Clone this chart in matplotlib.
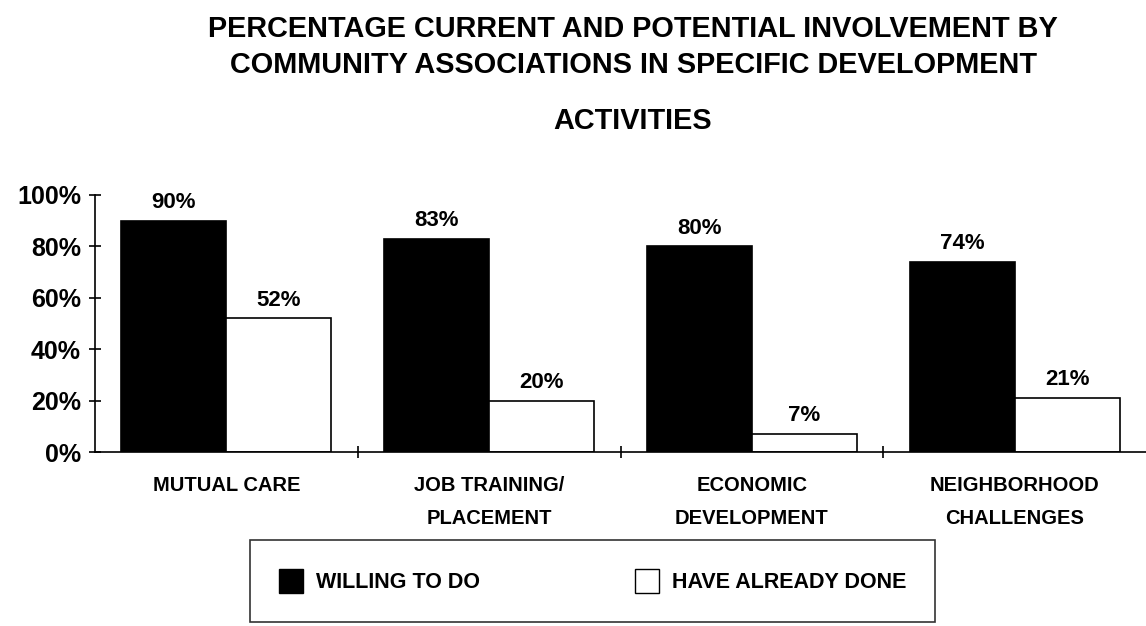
import matplotlib.pyplot as plt
from matplotlib.patches import Patch
import numpy as np

# Datos
categorias = ["MUTUAL CARE", "JOB TRAINING/\nPLACEMENT", "ECONOMIC\nDEVELOPMENT", "NEIGHBORHOOD\nCHALLENGES"]
willing = [90, 83, 80, 74]
already = [52, 20, 7, 21]
yticks = [0, 20, 40, 60, 80, 100]
titulo = ["PERCENTAGE CURRENT AND POTENTIAL INVOLVEMENT BY",
          "COMMUNITY ASSOCIATIONS IN SPECIFIC DEVELOPMENT",
          "ACTIVITIES"]

plt.rcParams['font.family'] = ['Liberation Sans', 'DejaVu Sans']

fig = plt.figure(figsize=(11.46, 6.26), dpi=100)
fig.patch.set_facecolor('white')
ax = fig.add_axes([95 / 1146, 1 - 452 / 626, 1 - 95 / 1146, (452 - 195) / 626])

x = np.arange(len(categorias))
w = 0.4
ax.bar(x - w / 2, willing, w, color='black', edgecolor='black', linewidth=1.2)
ax.bar(x + w / 2, already, w, color='white', edgecolor='black', linewidth=1.2)

# Etiquetas de porcentaje sobre las barras
for xi, v in zip(x, willing):
    ax.text(xi - w / 2, v + 3, f"{v}%", ha='center', va='bottom', fontsize=16, fontweight='bold')
for xi, v in zip(x, already):
    ax.text(xi + w / 2, v + 3, f"{v}%", ha='center', va='bottom', fontsize=16, fontweight='bold')

ax.set_xlim(-0.5, 3.5)
ax.set_ylim(0, 100)
ax.set_yticks(yticks)
ax.set_yticklabels([f"{t}%" for t in yticks], fontsize=18, fontweight='bold')
ax.set_xticks(x)
ax.set_xticklabels(categorias, fontsize=14.5, fontweight='bold', linespacing=1.95)
ax.set_xticks([0.5, 1.5, 2.5], minor=True)
ax.tick_params(axis='x', which='major', length=0, pad=17)
ax.tick_params(axis='x', which='minor', length=8, direction='inout', width=1.2)
ax.tick_params(axis='y', length=8, direction='inout', width=1.2, pad=6)
for s in ['top', 'right']:
    ax.spines[s].set_visible(False)
for s in ['left', 'bottom']:
    ax.spines[s].set_linewidth(1.2)

# Titulo en tres lineas
for linea, yy in zip(titulo, [29, 65, 121]):
    fig.text(633 / 1146, 1 - yy / 626, linea, ha='center', va='center',
             fontsize=20.8, fontweight='bold')

handles = [Patch(facecolor='black', edgecolor='black', label='WILLING TO DO'),
           Patch(facecolor='white', edgecolor='black', label='HAVE ALREADY DONE')]
leg = fig.legend(handles=handles, loc='upper left',
                 bbox_to_anchor=(250 / 1146, 0, 685 / 1146, 1 - 540 / 626),
                 mode='expand', ncol=2, fancybox=False, edgecolor='black',
                 prop={'size': 15.5, 'weight': 'bold'},
                 handlelength=1.1, handleheight=1.3, handletextpad=0.6,
                 borderpad=1.35, borderaxespad=0)
leg.get_frame().set_linewidth(1.2)

plt.savefig('out.png', dpi=100)
